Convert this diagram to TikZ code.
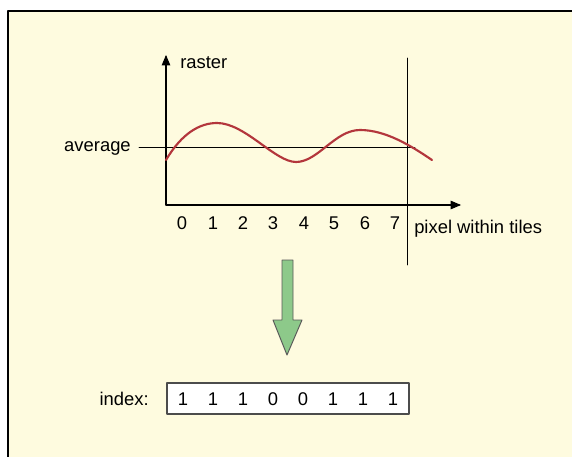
\documentclass[tikz,border=0pt]{standalone}
\usepackage{fontspec}
\setmainfont{Liberation Sans}
\usetikzlibrary{arrows}
\definecolor{fond}{HTML}{FEFBDF}
\definecolor{courbe}{HTML}{B3363C}
\definecolor{fleche}{HTML}{8DC98A}
\tikzset{
  etiquette/.style={inner sep=0pt,font=\fontsize{13.8}{16}\selectfont},
  chiffre/.style={etiquette,anchor=center}
}
\begin{document}
\begin{tikzpicture}[line cap=round,line join=round,>=triangle 45,x=0.75pt,y=-0.75pt]
  \useasboundingbox (0,0) rectangle (572,457);
  % Fond
  \fill[fond] (8,11) rectangle (572,457);
  \draw[line width=1.1pt] (8,457)--(8,11)--(572,11);
  % Axes
  \coordinate (O) at (166,205);
  \coordinate (yhaut) at (166,55);
  \coordinate (xfin) at (461,205);
  \draw[->,line width=0.8pt] (O)--(yhaut);
  \draw[->,line width=0.8pt] (O)--(xfin);
  \node[etiquette,anchor=west] (raster) at (180,63) {raster};
  % Moyenne
  \node[etiquette,anchor=east] (moy) at (131,148) {average};
  \coordinate (moyfin) at (415,147);
  \draw[line width=0.7pt] (139,147)--(moyfin);
  % Limite de tuile
  \coordinate (lhaut) at (407,58);
  \coordinate (lbas) at (407,265);
  \draw[line width=0.7pt] (lhaut)--(lbas);
  % Courbe
  \draw[courbe,line width=1.6pt] (166,160)
    .. controls (182,133) and (200,123) .. (217,123)
    .. controls (245,123) and (275,162) .. (296,162)
    .. controls (318,162) and (335,130) .. (360,130)
    .. controls (385,130) and (410,145) .. (432,160);
  % Graduations
  \foreach \i/\x in {0/182,1/213,2/243,3/273,4/304,5/334,6/365,7/395}
    \node[chiffre] (g\i) at (\x,223) {\i};
  \node[etiquette,anchor=west] (pixel) at (414,229) {pixel within tiles};
  % Fleche
  \node[coordinate] (fl) at (287,260) {};
  \draw[fill=fleche,draw=black!65,line width=0.7pt]
    (282,260)--(293,260)--(293,320)--(302,320)--(287,355)--(273,320)--(282,320)--cycle;
  % Index
  \node[etiquette,anchor=east] (idx) at (149,399) {index:};
  \node[draw=black!70,fill=white,line width=0.8pt,minimum width=181.5pt,minimum height=23.25pt,inner sep=0pt] (boite) at (288,398.5) {};
  \foreach \i/\x/\b in {0/183/1,1/213/1,2/243/1,3/273/0,4/303/0,5/333/1,6/363/1,7/393/1}
    \node[chiffre] (b\i) at (\x,399) {\b};
\end{tikzpicture}
\end{document}
